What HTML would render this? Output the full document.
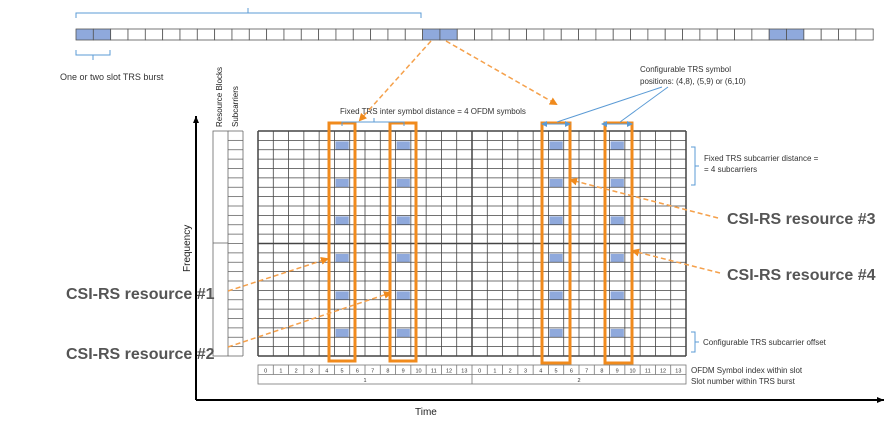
<!DOCTYPE html>
<html><head><meta charset="utf-8"><style>
html,body{margin:0;padding:0;background:#fff;}
svg{display:block;font-family:"Liberation Sans",sans-serif;}
</style></head><body>
<svg id="s" width="891" height="430" viewBox="0 0 891 430" xmlns="http://www.w3.org/2000/svg">
<defs>
<marker id="ao" markerWidth="8" markerHeight="8" refX="6" refY="4" orient="auto" markerUnits="userSpaceOnUse"><path d="M0,0 L8,4 L0,8 z" fill="#f08a1c"/></marker>
<marker id="ab" markerWidth="8" markerHeight="8" refX="7" refY="4" orient="auto" markerUnits="userSpaceOnUse"><path d="M0,1 L7,4 L0,7 z" fill="#000"/></marker>
<marker id="al" markerWidth="6" markerHeight="6" refX="5" refY="3" orient="auto-start-reverse" markerUnits="userSpaceOnUse"><path d="M0,0 L6,3 L0,6 z" fill="#5b9bd5"/></marker>
</defs>
<g id="g"></g>
<path d="M76,18 V13 H421 V18 M248,13 V8" fill="none" stroke="#5b9bd5" stroke-width="1"/>
<path d="M76,50 V55 H110 V50 M93,55 V60" fill="none" stroke="#5b9bd5" stroke-width="1"/>
<text x="60" y="80" font-size="9" fill="#333">One or two slot TRS burst</text>
<text x="640" y="72" font-size="8" fill="#333">Configurable TRS symbol</text>
<text x="640" y="84" font-size="8" fill="#333">positions: (4,8), (5,9) or (6,10)</text>
<line x1="662" y1="87" x2="557" y2="122" stroke="#5b9bd5"/>
<line x1="668" y1="87" x2="620" y2="122" stroke="#5b9bd5"/>
<line x1="542" y1="124" x2="570" y2="124" stroke="#5b9bd5" marker-start="url(#al)" marker-end="url(#al)"/>
<line x1="602" y1="124" x2="632" y2="124" stroke="#5b9bd5" marker-start="url(#al)" marker-end="url(#al)"/>
<text x="340" y="114" font-size="8" fill="#333">Fixed TRS inter symbol distance = 4 OFDM symbols</text>
<path d="M342,126 V122 H404 V126 M374,122 V118" fill="none" stroke="#5b9bd5"/>
<path d="M691,147 H695 V185 H691 M695,166 H699" fill="none" stroke="#5b9bd5"/>
<text x="704" y="161" font-size="8" fill="#333">Fixed TRS subcarrier distance =</text>
<text x="704" y="172" font-size="8" fill="#333">= 4 subcarriers</text>
<path d="M691,332 H695 V352 H691 M695,342 H699" fill="none" stroke="#5b9bd5"/>
<text x="703" y="345" font-size="8" fill="#333">Configurable TRS subcarrier offset</text>
<text x="691" y="373" font-size="8" fill="#333">OFDM Symbol index within slot</text>
<text x="691" y="384" font-size="8" fill="#333">Slot number within TRS burst</text>
<line x1="196" y1="400" x2="196" y2="116" stroke="#000" stroke-width="2" marker-end="url(#ab)"/>
<line x1="196" y1="400" x2="884" y2="400" stroke="#000" stroke-width="2" marker-end="url(#ab)"/>
<text x="415" y="415" font-size="10" fill="#222">Time</text>
<text transform="translate(190,272) rotate(-90)" font-size="10" fill="#222">Frequency</text>
<text transform="translate(222,127) rotate(-90)" font-size="8" fill="#222">Resource Blocks</text>
<text transform="translate(238,127) rotate(-90)" font-size="8" fill="#222">Subcarriers</text>
<g font-size="16" font-weight="bold" fill="#555">
<text x="66" y="299">CSI-RS resource #1</text>
<text x="66" y="359">CSI-RS resource #2</text>
<text x="727" y="224">CSI-RS resource #3</text>
<text x="727" y="280">CSI-RS resource #4</text>
</g>
<g stroke="#f5a04a" stroke-width="1.5" stroke-dasharray="5,3" fill="none" marker-end="url(#ao)">
<line x1="228" y1="291" x2="327" y2="259"/>
<line x1="228" y1="347" x2="390" y2="293"/>
<line x1="718" y1="218" x2="571" y2="180"/>
<line x1="720" y1="273" x2="633" y2="251"/>
<line x1="431" y1="41" x2="360" y2="120"/>
<line x1="446" y1="41" x2="556" y2="104"/>
</g>
</svg>
<script>
var g=document.getElementById('g'),h='';
function L(x1,y1,x2,y2,c,w){h+='<line x1="'+x1+'" y1="'+y1+'" x2="'+x2+'" y2="'+y2+'" stroke="'+c+'" stroke-width="'+(w||1)+'"/>';}
function R(x,y,w,hh,f,s,sw){h+='<rect x="'+x+'" y="'+y+'" width="'+w+'" height="'+hh+'" fill="'+f+'" stroke="'+(s||'none')+'" stroke-width="'+(sw||1)+'"/>';}
var bx=76,cw=17.33;
for(var i=0;i<46;i++){var bl=(i<2||i==20||i==21||i==40||i==41);R(bx+i*cw,29,cw,11,bl?'#8fa9dc':'#fff','#555',0.8);}
var gx=258,gy=131,gw=428/28,gh=225/24;
for(var i=0;i<6;i++){var r=1+4*i;[5,9,19,23].forEach(function(c){R(gx+c*gw+1,gy+r*gh+1,gw-2,gh-1,'#8fa9dc');});}
for(var c=0;c<=28;c++)L(gx+c*gw,gy,gx+c*gw,gy+225,'#444',(c%14==0)?1.5:0.8);
for(var r=0;r<=24;r++)L(gx,gy+r*gh,gx+428,gy+r*gh,'#444',(r%12==0)?1.5:0.8);
R(213,131,15,225,'none','#666',0.8);L(213,243,228,243,'#666',0.8);
for(var r=0;r<=24;r++)L(228,gy+r*gh,243,gy+r*gh,'#666',0.8);
L(243,131,243,356,'#666',0.8);
R(258,365,428,19,'none','#777',0.8);L(258,374.5,686,374.5,'#777',0.8);L(472,374.5,472,384,'#777',0.8);
for(var c=0;c<28;c++){if(c>0)L(gx+c*gw,365,gx+c*gw,374.5,'#777',0.8);h+='<text x="'+(gx+c*gw+gw/2)+'" y="372.5" font-size="5.5" text-anchor="middle" fill="#333">'+(c%14)+'</text>';}
h+='<text x="365" y="382" font-size="5.5" text-anchor="middle" fill="#333">1</text><text x="579" y="382" font-size="5.5" text-anchor="middle" fill="#333">2</text>';
[[329,123,26,238],[390,123,26,238],[542,123,28,240],[605,123,27,240]].forEach(function(b){R(b[0],b[1],b[2],b[3],'none','#f08a1c',3);});
g.innerHTML=h;
</script>
</body></html>
